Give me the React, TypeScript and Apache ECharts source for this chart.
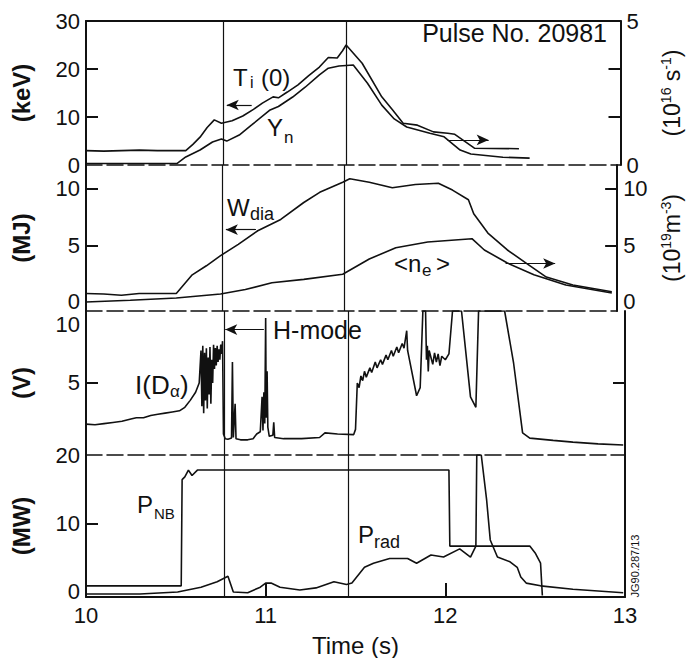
import React, { useEffect, useRef } from "react";
import * as echarts from "echarts";

// ---------------- data ----------------
const timeTicks = [10, 11, 12, 13];
const transitionTimes = [10.765, 11.465];

// Panel 1: central ion temperature (keV, left) and neutron rate (10^16 s^-1, right)
const ionTemp: [number, number][] = [
  [10.0, 3.0], [10.1, 2.9], [10.2, 3.0], [10.3, 3.1], [10.4, 3.0], [10.5, 3.0], [10.56, 3.0],
  [10.6, 4.3], [10.64, 5.8], [10.68, 7.8], [10.72, 9.4], [10.76, 8.7], [10.82, 9.2], [10.88, 10.2],
  [10.94, 11.6], [10.99, 12.9], [11.05, 14.2], [11.08, 14.0], [11.13, 15.2], [11.19, 16.7],
  [11.25, 18.6], [11.31, 20.4], [11.36, 22.4], [11.41, 22.3], [11.44, 23.8], [11.46, 25.0],
  [11.55, 21.2], [11.66, 14.2], [11.72, 11.5], [11.78, 8.7], [11.86, 8.3], [11.95, 6.9],
  [12.03, 6.6], [12.07, 6.4], [12.18, 3.5], [12.43, 3.4],
];
const neutronRate: [number, number][] = [
  [10.0, 0.05], [10.3, 0.05], [10.51, 0.05], [10.56, 0.28], [10.64, 0.52], [10.71, 0.8],
  [10.76, 0.9], [10.79, 0.83], [10.86, 1.04], [10.93, 1.39], [11.03, 1.9], [11.08, 2.03],
  [11.16, 2.36], [11.23, 2.7], [11.31, 3.13], [11.36, 3.36], [11.42, 3.44], [11.5, 3.47],
  [11.58, 2.84], [11.66, 2.08], [11.73, 1.6], [11.8, 1.32], [11.93, 1.1], [12.01, 0.98],
  [12.1, 0.52], [12.16, 0.38], [12.34, 0.27], [12.49, 0.24],
];

// Panel 2: diamagnetic energy (MJ, left) and line-average density (10^19 m^-3, right)
const wDia: [number, number][] = [
  [10.0, 0.75], [10.1, 0.7], [10.2, 0.6], [10.3, 0.75], [10.4, 0.75], [10.51, 0.75],
  [10.6, 2.4], [10.68, 3.2], [10.76, 4.1], [10.86, 5.1], [10.97, 6.3], [11.1, 7.3],
  [11.23, 8.8], [11.32, 9.7], [11.45, 10.6], [11.49, 10.9], [11.6, 10.6], [11.73, 10.1],
  [11.86, 10.4], [11.99, 10.5], [12.07, 9.9], [12.16, 9.05], [12.19, 7.8], [12.27, 6.1],
  [12.38, 4.6], [12.49, 3.4], [12.6, 2.2], [12.75, 1.5], [12.97, 0.9],
];
const neDensity: [number, number][] = [
  [10.0, 0.0], [10.25, 0.15], [10.51, 0.35], [10.76, 0.7], [10.9, 1.1], [11.05, 1.7],
  [11.23, 2.0], [11.45, 2.45], [11.6, 3.8], [11.75, 4.8], [11.93, 5.3], [12.18, 5.6],
  [12.25, 4.6], [12.38, 3.45], [12.53, 2.4], [12.71, 1.5], [12.97, 0.8],
];

// Panel 3: D-alpha emission (V)
const dAlpha: [number, number][] = [
  [10.0, 1.45], [10.05, 1.4], [10.1, 1.5], [10.15, 1.6], [10.2, 1.7], [10.25, 1.9], [10.28, 2.0],
  [10.32, 2.0], [10.36, 2.2], [10.4, 2.3], [10.44, 2.4], [10.48, 2.5], [10.52, 2.6], [10.55, 2.9],
  [10.58, 3.5], [10.61, 4.2], [10.63, 5.0],
  [10.64, 7.8], [10.645, 3.0], [10.65, 8.2], [10.655, 2.4], [10.66, 7.6], [10.665, 3.5],
  [10.67, 8.0], [10.675, 2.8], [10.68, 7.2], [10.685, 4.0], [10.69, 8.1], [10.695, 3.2],
  [10.7, 7.0], [10.705, 5.0], [10.71, 8.3], [10.715, 6.2], [10.72, 8.0], [10.725, 6.5],
  [10.73, 8.2], [10.735, 6.8], [10.74, 7.9], [10.745, 7.0], [10.75, 8.3], [10.755, 7.5], [10.76, 8.6],
  [10.765, 0.6], [10.775, 0.2], [10.79, 0.15], [10.81, 0.25], [10.815, 6.8], [10.82, 0.3],
  [10.83, 3.2], [10.835, 0.2], [10.86, 0.1], [10.9, 0.1], [10.93, 0.2], [10.95, 0.6], [10.97, 0.8],
  [10.98, 3.8], [10.985, 0.9], [10.99, 4.2], [10.995, 1.5], [11.0, 10.6], [11.003, 2.0],
  [11.008, 6.0], [11.012, 1.2], [11.02, 0.4], [11.04, 0.5], [11.045, 1.6], [11.05, 0.3],
  [11.1, 0.2], [11.2, 0.2], [11.3, 0.3], [11.33, 0.7], [11.4, 0.6], [11.49, 0.55],
  [11.5, 1.0], [11.51, 5.0], [11.52, 4.6], [11.53, 5.6], [11.54, 5.2], [11.55, 6.0], [11.56, 5.5],
  [11.58, 6.3], [11.59, 5.9], [11.61, 6.8], [11.62, 6.3], [11.64, 7.0], [11.65, 6.6], [11.67, 7.4],
  [11.68, 7.0], [11.7, 7.8], [11.71, 7.3], [11.73, 8.1], [11.74, 7.6], [11.76, 8.4], [11.77, 8.0],
  [11.785, 9.5], [11.79, 7.8], [11.84, 3.9], [11.86, 4.6], [11.875, 11.2], [11.89, 11.2],
  [11.895, 7.0], [11.9, 8.2], [11.905, 6.0], [11.91, 7.8], [11.92, 7.2], [11.93, 6.6], [11.94, 7.6],
  [11.95, 6.8], [11.96, 7.5], [11.97, 6.5], [11.98, 7.3], [12.0, 7.0], [12.02, 7.5], [12.04, 11.2],
  [12.09, 11.2], [12.14, 3.8], [12.17, 2.9], [12.185, 11.2], [12.33, 11.2], [12.38, 6.7],
  [12.43, 0.7], [12.47, 0.25], [12.6, 0.05], [12.71, -0.1], [12.85, -0.25], [12.99, -0.35],
];

// Panel 4: NBI power and radiated power (MW)
const pNB: [number, number][] = [
  [10.0, 0.9], [10.53, 0.9], [10.535, 16.4], [10.55, 16.8], [10.57, 17.8], [10.59, 17.0],
  [10.62, 17.8], [12.02, 17.8], [12.025, 6.7], [12.47, 6.7], [12.5, 5.7], [12.53, 4.2], [12.54, -0.5],
];
const pRad: [number, number][] = [
  [10.0, -0.3], [10.3, -0.3], [10.51, 0], [10.64, 0.7], [10.73, 1.5], [10.79, 2.3], [10.82, 0],
  [10.9, -0.1], [10.97, 0.7], [11.0, 1.3], [11.03, 1.3], [11.08, 0.7], [11.19, 0.3], [11.28, 0.6],
  [11.38, 1.5], [11.45, 1.1], [11.48, 1.3], [11.55, 3.6], [11.6, 4.2], [11.69, 4.9], [11.79, 4.9],
  [11.84, 4.2], [11.92, 5.4], [11.99, 5.1], [12.08, 6.3], [12.14, 5.1], [12.17, 6.7], [12.175, 20],
  [12.2, 20], [12.23, 13.4], [12.25, 7.6], [12.29, 5.1], [12.36, 4.4], [12.4, 3.6], [12.42, 2.2],
  [12.45, 1.3], [12.53, 0.9], [12.71, 0.4], [12.99, -0.1],
];

// annotation arrows (data coordinates: [time, value])
const tiArrow = [[10.93, 12.5], [10.79, 12.5]];
const ynArrow = [[12.03, 0.87], [12.26, 0.87]];
const wArrow = [[10.96, 6.4], [10.79, 6.4]];
const neArrow = [[12.37, 3.4], [12.65, 3.4]];
const hModeArrow = [[10.99, 9.6], [10.775, 9.6]];

// ---------------- styling ----------------
const INK = "#111";
const FONT = "'Liberation Sans', Arial, Helvetica, sans-serif";
const GRID_LEFT = 86;
const GRID_RIGHT = 66;

const arrowItem = (a: number[][]) => [
  { coord: a[0], symbol: "none" },
  { coord: a[1], symbol: "arrow", symbolSize: [8, 12] },
];

const makeMarkLine = (items: any[], withLines: boolean) => ({
  silent: true,
  symbol: "none",
  label: { show: false },
  emphasis: { disabled: true },
  lineStyle: { color: INK, width: 1.2, type: "solid" },
  data: [...(withLines ? transitionTimes.map((t) => ({ xAxis: t })) : []), ...items],
});

const lineSeries = (name: string, data: any, xi: number, yi: number, markLine?: any) => ({
  name,
  type: "line",
  data,
  xAxisIndex: xi,
  yAxisIndex: yi,
  showSymbol: false,
  symbol: "none",
  lineStyle: { color: INK, width: 1.6 },
  emphasis: { disabled: true },
  markLine,
});

const labelStyle = { color: INK, fontSize: 22, fontFamily: FONT, lineHeight: 18 };

const yAx = (
  grid: number,
  pos: "left" | "right",
  min: number,
  max: number,
  labels: number[],
  ticks: number[],
  name?: string,
  nameRich?: any
) => ({
  type: "value",
  gridIndex: grid,
  position: pos,
  min,
  max,
  splitLine: { show: false },
  axisLine: { show: true, onZero: false, lineStyle: { color: INK, width: 2 } },
  axisTick: {
    show: ticks.length > 0,
    inside: true,
    length: 12,
    customValues: ticks,
    lineStyle: { color: INK, width: 2 },
  },
  axisLabel: {
    show: labels.length > 0,
    customValues: labels,
    margin: 6,
    ...labelStyle,
  },
  name,
  nameLocation: "middle",
  nameRotate: 90,
  nameGap: pos === "left" ? 53 : 38,
  nameTextStyle: nameRich
    ? { rich: nameRich }
    : { color: INK, fontSize: 24, fontWeight: "bold", fontFamily: FONT },
});

const supRich = {
  a: { fontSize: 23, fontFamily: FONT, color: INK, lineHeight: 26 },
  s: { fontSize: 14, fontFamily: FONT, color: INK, verticalAlign: "top", lineHeight: 14 },
};

const xAx = (grid: number, bottom: boolean) => ({
  type: "value",
  gridIndex: grid,
  min: timeTicks[0],
  max: timeTicks[timeTicks.length - 1],
  interval: 1,
  splitLine: { show: false },
  axisLine: {
    show: true,
    onZero: false,
    lineStyle: bottom ? { color: INK, width: 2 } : { color: INK, width: 1.5, type: [16, 5] },
  },
  axisTick: { show: bottom, inside: true, length: 14, lineStyle: { color: INK, width: 2 } },
  axisLabel: { show: bottom, margin: 9, ...labelStyle },
  name: bottom ? "Time (s)" : "",
  nameLocation: "middle",
  nameGap: 36,
  nameTextStyle: { color: INK, fontSize: 24, fontFamily: FONT },
});

const txt = (x: number, y: number, text: string, size: number, extra: any = {}) => ({
  type: "text",
  x,
  y,
  silent: true,
  style: {
    text,
    fontSize: size,
    fontFamily: FONT,
    fill: INK,
    align: "left",
    verticalAlign: "middle",
    ...extra,
  },
});

export default function App() {
  const ref = useRef<HTMLDivElement>(null);

  useEffect(() => {
    if (!ref.current) return;
    const chart = echarts.init(ref.current, null, { renderer: "svg" });
    const option: any = {
      animation: false,
      backgroundColor: "#fff",
      grid: [
        { left: GRID_LEFT, right: GRID_RIGHT, top: 21, height: 144 },
        { left: GRID_LEFT, right: GRID_RIGHT, top: 165, height: 146 },
        { left: GRID_LEFT, right: GRID_RIGHT, top: 311, height: 144 },
        { left: GRID_LEFT, right: GRID_RIGHT, top: 455, height: 142 },
      ],
      xAxis: [
        xAx(0, false),
        xAx(1, false),
        xAx(2, false),
        xAx(3, true),
        {
          type: "value",
          gridIndex: 0,
          position: "top",
          min: 10,
          max: 13,
          splitLine: { show: false },
          axisLine: { show: true, onZero: false, lineStyle: { color: INK, width: 2 } },
          axisTick: { show: false },
          axisLabel: { show: false },
        },
      ],
      yAxis: [
        yAx(0, "left", 0, 30, [0, 10, 20, 30], [10, 20], "(keV)"),
        yAx(0, "right", 0, 5, [0, 5], [5 / 3, 10 / 3], "{a|(10}{s|16}{a| s}{s|-1}{a|)}", supRich),
        yAx(1, "left", -0.8, 12.12, [0, 5, 10], [5, 10], "(MJ)"),
        yAx(1, "right", -0.8, 12.12, [0, 5, 10], [5, 10], "{a|(10}{s|19}{a|m}{s|-3}{a|)}", supRich),
        yAx(2, "left", -1.207, 11.2, [5, 10], [5], "(V)"),
        yAx(2, "right", -1.207, 11.2, [], [5]),
        yAx(3, "left", -0.73, 20, [0, 10, 20], [10], "(MW)"),
        yAx(3, "right", -0.73, 20, [], []),
      ],
      series: [
        lineSeries("Ti(0)", ionTemp, 0, 0, makeMarkLine([arrowItem(tiArrow)], true)),
        lineSeries("Yn", neutronRate, 0, 1, makeMarkLine([arrowItem(ynArrow)], false)),
        lineSeries("Wdia", wDia, 1, 2, makeMarkLine([arrowItem(wArrow)], true)),
        lineSeries("<ne>", neDensity, 1, 3, makeMarkLine([arrowItem(neArrow)], false)),
        lineSeries("I(Dα)", dAlpha, 2, 4, makeMarkLine([arrowItem(hModeArrow)], true)),
        lineSeries("PNB", pNB, 3, 6, makeMarkLine([], true)),
        lineSeries("Prad", pRad, 3, 6),
      ],
      graphic: [
        txt(607, 33, "Pulse No. 20981", 25, { align: "right" }),
        txt(233, 77, "T", 24),
        txt(250, 82, "i", 16),
        txt(261, 77, "(0)", 24),
        txt(267, 127, "Y", 24),
        txt(284, 137, "n", 17),
        txt(227, 207, "W", 24),
        txt(250, 214, "dia", 18),
        txt(394, 263, "<n", 24),
        txt(422, 270, "e", 17),
        txt(436, 263, ">", 24),
        txt(273, 330, "H-mode", 25),
        txt(135, 385, "I(D", 26),
        txt(170, 391, "α", 17),
        txt(180, 385, ")", 26),
        txt(137, 504, "P", 24),
        txt(154, 513, "NB", 15),
        txt(358, 534, "P", 24),
        txt(374, 542, "rad", 18),
        {
          type: "text",
          x: 635,
          y: 566,
          rotation: Math.PI / 2,
          silent: true,
          style: {
            text: "JG90.287/13",
            fontSize: 11,
            fontFamily: FONT,
            fill: INK,
            align: "center",
            verticalAlign: "middle",
          },
        },
      ],
    };
    chart.setOption(option);
    return () => chart.dispose();
  }, []);

  return (
    <div
      ref={ref}
      style={{ position: "absolute", left: 0, top: 0, width: 691, height: 658, background: "#fff" }}
    />
  );
}
